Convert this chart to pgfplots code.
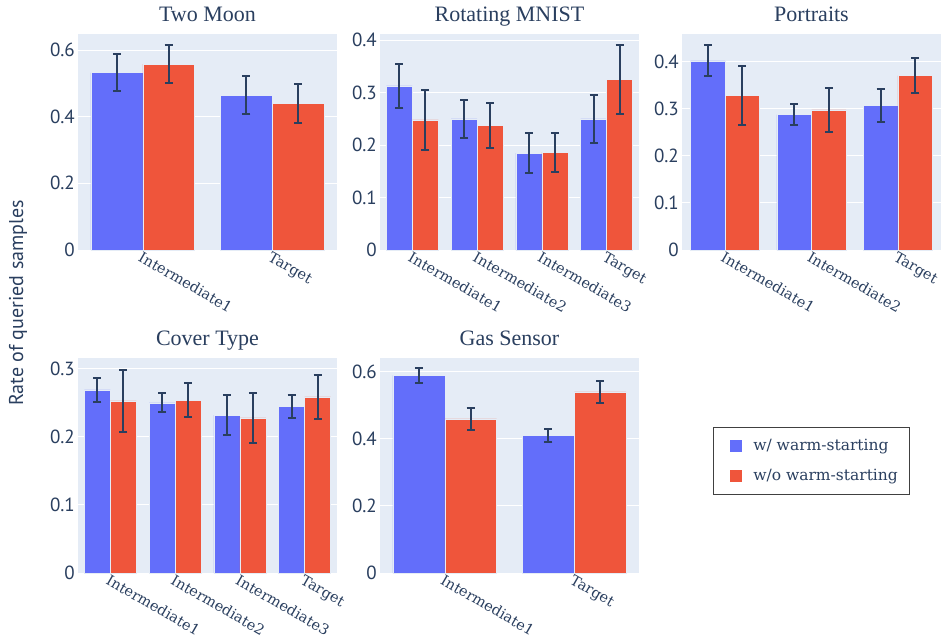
\documentclass[border=0pt]{standalone}
\usepackage{fontspec}
\setmainfont{Liberation Serif}
\newfontfamily\ptsans{PT Sans}
\newfontfamily\djserif{DejaVu Serif}
\usepackage{pgfplots}
\pgfplotsset{compat=1.18}
\definecolor{bgcol}{HTML}{E5ECF6}
\definecolor{cblue}{HTML}{636EFA}
\definecolor{cred}{HTML}{EF553B}
\definecolor{txt}{HTML}{2A3F5F}
\pgfplotsset{
  panel/.style={
    scale only axis, width=259pt, height=216pt,
    anchor=south west,
    axis background/.style={fill=bgcol},
    axis line style={draw=none},
    major tick length=0pt,
    ymajorgrids, grid style={white, line width=1pt},
    ybar=0pt, bar width=0.4,
    ymin=0,
    xtick=data,
    ticklabel style={text=txt},
    yticklabel style={font=\ptsans\fontsize{19pt}{22pt}\selectfont, anchor=east, inner sep=0pt, xshift=-3pt},
    xticklabel style={font=\djserif\fontsize{14.5pt}{17pt}\selectfont, rotate=-30, anchor=north west, inner sep=0.5pt},
    title style={font=\fontsize{22pt}{26pt}\selectfont, text=txt, at={(0.5,1)}, anchor=base, yshift=7pt},
    every axis plot/.append style={draw=bgcol, line width=0.5pt},
    error bars/error bar style={line width=2pt, color=txt, solid},
    error bars/error mark options={rotate=90, mark size=4pt, line width=2pt, color=txt},
    legend image code/.code={\path (0pt,0pt) (27pt,0pt); \fill[#1,draw=none] (6pt,-6pt) rectangle (18pt,6pt);},
  },
}
\begin{document}
\begin{tikzpicture}
\useasboundingbox (0,0) rectangle (942pt,-640pt);
\fill[white] (0,0) rectangle (942pt,-640pt);

% Two Moon
\begin{axis}[panel, at={(78pt,-250pt)}, title={Two Moon},
  xmin=-0.5, xmax=1.5, ymax=0.648,
  ytick={0,0.2,0.4,0.6}, yticklabels={0,0.2,0.4,0.6},
  xticklabels={Intermediate1,Target}]
\addplot[fill=cblue, error bars/.cd, y dir=both, y explicit] coordinates {(0,0.532) +- (0,0.056) (1,0.465) +- (0,0.058)};
\addplot[fill=cred, error bars/.cd, y dir=both, y explicit] coordinates {(0,0.558) +- (0,0.058) (1,0.440) +- (0,0.059)};
\end{axis}

% Rotating MNIST
\begin{axis}[panel, at={(380pt,-250pt)}, title={Rotating MNIST},
  xmin=-0.5, xmax=3.5, ymax=0.412,
  ytick={0,0.1,0.2,0.3,0.4}, yticklabels={0,0.1,0.2,0.3,0.4},
  xticklabels={Intermediate1,Intermediate2,Intermediate3,Target}]
\addplot[fill=cblue, error bars/.cd, y dir=both, y explicit] coordinates {(0,0.313) +- (0,0.042) (1,0.250) +- (0,0.037) (2,0.185) +- (0,0.039) (3,0.250) +- (0,0.045)};
\addplot[fill=cred, error bars/.cd, y dir=both, y explicit] coordinates {(0,0.248) +- (0,0.058) (1,0.238) +- (0,0.043) (2,0.186) +- (0,0.038) (3,0.325) +- (0,0.066)};
\end{axis}

% Portraits
\begin{axis}[panel, at={(682pt,-250pt)}, title={Portraits},
  xmin=-0.5, xmax=2.5, ymax=0.458,
  ytick={0,0.1,0.2,0.3,0.4}, yticklabels={0,0.1,0.2,0.3,0.4},
  xticklabels={Intermediate1,Intermediate2,Target}]
\addplot[fill=cblue, error bars/.cd, y dir=both, y explicit] coordinates {(0,0.401) +- (0,0.033) (1,0.287) +- (0,0.023) (2,0.307) +- (0,0.035)};
\addplot[fill=cred, error bars/.cd, y dir=both, y explicit] coordinates {(0,0.328) +- (0,0.063) (1,0.297) +- (0,0.046) (2,0.370) +- (0,0.038)};
\end{axis}

% Cover Type
\begin{axis}[panel, at={(78pt,-573pt)}, height=215pt, title={Cover Type},
  xmin=-0.5, xmax=3.5, ymax=0.316,
  ytick={0,0.1,0.2,0.3}, yticklabels={0,0.1,0.2,0.3},
  xticklabels={Intermediate1,Intermediate2,Intermediate3,Target}]
\addplot[fill=cblue, error bars/.cd, y dir=both, y explicit] coordinates {(0,0.269) +- (0,0.018) (1,0.250) +- (0,0.014) (2,0.232) +- (0,0.029) (3,0.245) +- (0,0.017)};
\addplot[fill=cred, error bars/.cd, y dir=both, y explicit] coordinates {(0,0.253) +- (0,0.046) (1,0.254) +- (0,0.025) (2,0.228) +- (0,0.037) (3,0.259) +- (0,0.032)};
\end{axis}

% Gas Sensor
\begin{axis}[panel, at={(380pt,-573pt)}, height=215pt, title={Gas Sensor},
  xmin=-0.5, xmax=1.5, ymax=0.640,
  ytick={0,0.2,0.4,0.6}, yticklabels={0,0.2,0.4,0.6},
  xticklabels={Intermediate1,Target},
  legend style={at={(1.287,0.679)}, anchor=north west, draw=black!75, line width=1pt, fill=white,
    font=\djserif\fontsize{15.5pt}{18pt}\selectfont, text=txt,
    inner xsep=10pt, inner ysep=10pt, row sep=13pt, cells={anchor=west}},
  legend cell align=left]
\addplot[fill=cblue, error bars/.cd, y dir=both, y explicit] coordinates {(0,0.588) +- (0,0.021) (1,0.410) +- (0,0.020)};
\addplot[fill=cred, error bars/.cd, y dir=both, y explicit] coordinates {(0,0.459) +- (0,0.032) (1,0.539) +- (0,0.033)};
\legend{w/ warm-starting, w/o warm-starting}
\end{axis}

\node[rotate=90, text=txt, font=\ptsans\fontsize{20pt}{24pt}\selectfont] at (18pt,-303pt) {Rate of queried samples};
\end{tikzpicture}
\end{document}
